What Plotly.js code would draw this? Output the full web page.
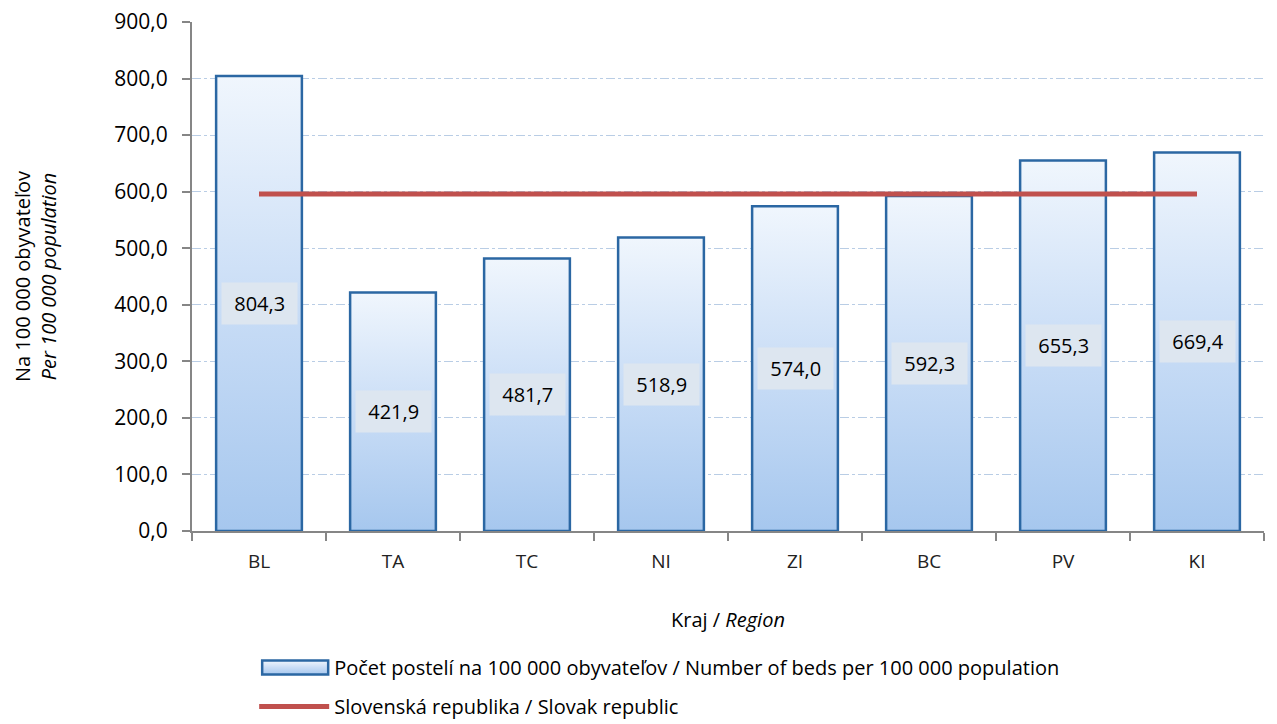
<!DOCTYPE html>
<html><head><meta charset="utf-8">
<script src="https://cdn.plot.ly/plotly-3.0.1.min.js"></script>
<style>body{margin:0;background:#fff}#c{width:1277px;height:724px}</style>
</head><body><div id="c"></div>
<script>
const regions = ["BL","TA","TC","NI","ZI","BC","PV","KI"];
const beds = [804.3,421.9,481.7,518.9,574.0,592.3,655.3,669.4];
const slovakia = [596,596,596,596,596,596,596,596];
const yTicks = [0,100,200,300,400,500,600,700,800,900];
const seriesNames = ["Počet postelí na 100 000 obyvateľov / Number of beds per 100 000 population","Slovenská republika / Slovak republic"];

const FONT = "'Open Sans', sans-serif";
const fmt = v => '\u00a0' + v.toFixed(1).replace('.', ',') + '\u00a0';

const traces = [
  {type:'bar', x:regions, y:beds, name:seriesNames[0], width:0.64,
   marker:{color:'#c9def6', line:{color:'#2b67a3', width:2.5}},
   hoverinfo:'skip', legendgroup:'a'},
  {type:'scatter', mode:'lines', x:regions, y:slovakia, name:seriesNames[1],
   line:{color:'#c0504d', width:5}, legendgroup:'b'}
];

const annotations = regions.map((r,i)=>({
  x:r, y:beds[i]/2, xref:'x', yref:'y', text:fmt(beds[i]), showarrow:false,
  font:{family:FONT, size:20, color:'#000'}, bgcolor:'#dde6f0', borderpad:7
}));

const layout = {
  width:1277, height:724,
  margin:{l:192, r:13, t:22, b:193, autoexpand:false},
  paper_bgcolor:'#fff', plot_bgcolor:'#fff',
  separators:', ',
  font:{family:FONT, size:20, color:'#000'},
  showlegend:true,
  legend:{orientation:'v', x:0.058, xanchor:'left', y:-0.23, yanchor:'top',
          font:{family:FONT, size:20, color:'#000'}, traceorder:'grouped', tracegroupgap:10,
          itemwidth:70, bgcolor:'rgba(0,0,0,0)'},
  xaxis:{type:'category', showline:true, linecolor:'#868686', linewidth:2, automargin:false,
         ticks:'outside', tickson:'boundaries', ticklen:8, tickcolor:'#868686', tickwidth:2,
         ticklabelstandoff:12,
         showgrid:false, tickfont:{family:FONT, size:19, color:'#222'},
         title:{text:'Kraj / <i>Region</i>', font:{family:FONT, size:20, color:'#000'}, standoff:40}},
  yaxis:{range:[0,900], tickvals:yTicks, tickformat:'.1f', showline:true, linecolor:'#868686', linewidth:2, automargin:false,
         ticks:'outside', ticklen:8, tickcolor:'#868686', tickwidth:2, ticklabelstandoff:10,
         showgrid:true, gridcolor:'#b9cde5', griddash:'dashdot', gridwidth:1, zeroline:false,
         tickfont:{family:FONT, size:21, color:'#000'},
         title:{text:'Na 100 000 obyvateľov<br><i>Per 100 000 population</i>', font:{family:FONT, size:20, color:'#000'}, standoff:52}},
  annotations:annotations,
  bargap:0.36
};
Plotly.newPlot('c', traces, layout, {displayModeBar:false, staticPlot:true}).then(gd=>{
  const svg = gd.querySelector('svg.main-svg');
  const ns = 'http://www.w3.org/2000/svg';
  let defs = svg.querySelector('defs');
  const g = document.createElementNS(ns,'linearGradient');
  g.setAttribute('id','barGrad'); g.setAttribute('x1','0'); g.setAttribute('y1','0'); g.setAttribute('x2','0'); g.setAttribute('y2','1');
  [['0','#f0f6fd'],['0.5','#c9ddf6'],['1','#a6c7ee']].forEach(([o,c])=>{
    const s=document.createElementNS(ns,'stop'); s.setAttribute('offset',o); s.setAttribute('stop-color',c); g.appendChild(s);
  });
  defs.appendChild(g);
  gd.querySelectorAll('.barlayer .point path').forEach(p=>{ p.style.fill='url(#barGrad)'; });
  gd.querySelectorAll('.legend .legendpoints .legendbar path, .legend .legendpoints path.legendundefined').forEach(p=>{});
  const lp = gd.querySelector('.legend .traces .legendpoints .legendbar path') || gd.querySelector('.legend .traces .legendpoints path');
  if (lp) { lp.setAttribute('d','M-32,-7h66v14h-66z'); lp.style.fill='url(#barGrad)'; lp.style.strokeWidth='2.5px'; }
});
</script></body></html>
